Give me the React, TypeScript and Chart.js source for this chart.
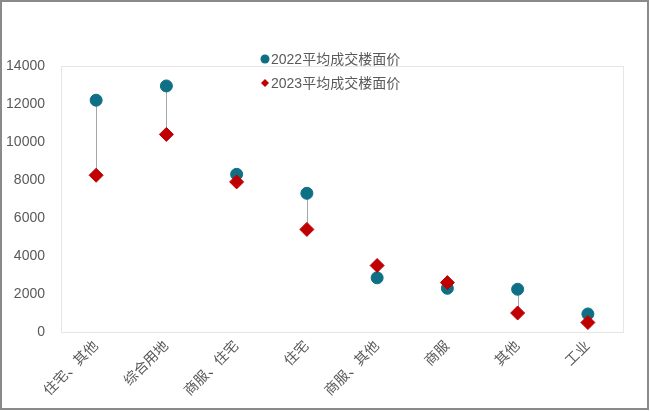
import React, { useEffect, useRef } from "react";
import { Chart, registerables } from "chart.js";

Chart.register(...registerables);

const categories = ["住宅、其他", "综合用地", "商服、住宅", "住宅", "商服、其他", "商服", "其他", "工业"];
const price2022 = [12200, 12950, 8300, 7300, 2850, 2300, 2250, 950];
const price2023 = [8250, 10400, 7900, 5400, 3500, 2600, 1000, 500];
const seriesLabels = ["2022平均成交楼面价", "2023平均成交楼面价"];
const yTicks = [0, 2000, 4000, 6000, 8000, 10000, 12000, 14000];

const FONT = '"Liberation Sans", "Noto Sans CJK SC", Arial, sans-serif';
const TEAL = "#0e6f85";
const RED = "#c00000";
const TEXT = "#595959";

const frameAndLines = {
  id: "frameAndLines",
  beforeDatasetsDraw(chart: any) {
    const { ctx, chartArea } = chart;
    ctx.save();
    ctx.strokeStyle = "#e6e6e6";
    ctx.lineWidth = 1;
    ctx.strokeRect(
      Math.round(chartArea.left) + 0.5,
      Math.round(chartArea.top) + 0.5,
      Math.round(chartArea.right - chartArea.left),
      Math.round(chartArea.bottom - chartArea.top)
    );
    const x = chart.scales.x;
    const y = chart.scales.y;
    ctx.strokeStyle = "#a6a6a6";
    ctx.lineWidth = 1;
    for (let i = 0; i < categories.length; i++) {
      const px = Math.round(x.getPixelForValue(i)) + 0.5;
      ctx.beginPath();
      ctx.moveTo(px, y.getPixelForValue(price2022[i]));
      ctx.lineTo(px, y.getPixelForValue(price2023[i]));
      ctx.stroke();
    }
    ctx.restore();
  },
};

const customLegend = {
  id: "customLegend",
  afterDraw(chart: any) {
    const { ctx } = chart;
    ctx.save();
    ctx.font = `14px ${FONT}`;
    ctx.textBaseline = "middle";
    ctx.textAlign = "left";
    const items = [
      { label: seriesLabels[0], color: TEAL, style: "circle", y: 57 },
      { label: seriesLabels[1], color: RED, style: "rectRot", y: 81 },
    ];
    items.forEach((it) => {
      ctx.fillStyle = it.color;
      ctx.beginPath();
      if (it.style === "circle") {
        ctx.arc(263, it.y, 4.5, 0, Math.PI * 2);
      } else {
        ctx.moveTo(263, it.y - 4);
        ctx.lineTo(267, it.y);
        ctx.lineTo(263, it.y + 4);
        ctx.lineTo(259, it.y);
        ctx.closePath();
      }
      ctx.fill();
      ctx.fillStyle = TEXT;
      ctx.fillText(it.label, 269, it.y + 1);
    });
    ctx.restore();
  },
};

export default function App() {
  const ref = useRef<HTMLCanvasElement>(null);
  useEffect(() => {
    document.body.style.margin = "0";
    const chart = new Chart(ref.current!, {
      type: "line",
      data: {
        labels: categories,
        datasets: [
          {
            label: seriesLabels[0],
            data: price2022,
            showLine: false,
            pointStyle: "circle",
            pointRadius: 6,
            pointBorderWidth: 1,
            backgroundColor: TEAL,
            borderColor: TEAL,
            order: 2,
          },
          {
            label: seriesLabels[1],
            data: price2023,
            showLine: false,
            pointStyle: "rectRot",
            pointRadius: 7,
            pointBorderWidth: 1,
            backgroundColor: RED,
            borderColor: RED,
            order: 1,
          },
        ],
      },
      options: {
        responsive: true,
        maintainAspectRatio: false,
        animation: false,
        layout: { padding: { top: 64, right: 24, left: 0, bottom: 0 } },
        plugins: { legend: { display: false }, tooltip: { enabled: false } },
        scales: {
          x: {
            offset: true,
            grid: { display: false, drawTicks: false },
            border: { display: false },
            ticks: {
              color: TEXT,
              font: { family: FONT, size: 14 },
              maxRotation: 45,
              minRotation: 45,
              padding: 6,
              autoSkip: false,
            },
            afterFit: (s: any) => {
              s.height = 76;
            },
          },
          y: {
            min: 0,
            max: 14000,
            afterBuildTicks: (s: any) => {
              s.ticks = yTicks.map((v) => ({ value: v }));
            },
            grid: { display: false, drawTicks: false },
            border: { display: false },
            ticks: {
              color: TEXT,
              font: { family: FONT, size: 14 },
              padding: 16,
              callback: (v: any) => String(v),
            },
            afterFit: (s: any) => {
              s.width = 59;
            },
          },
        },
      },
      plugins: [frameAndLines, customLegend],
    });
    return () => chart.destroy();
  }, []);
  return (
    <div
      style={{
        position: "absolute",
        left: 0,
        top: 0,
        width: 649,
        height: 410,
        border: "2px solid #8a8a8a",
        boxSizing: "border-box",
        background: "#fff",
      }}
    >
      <div style={{ position: "relative", width: "100%", height: "100%" }}>
        <canvas ref={ref} />
      </div>
    </div>
  );
}
